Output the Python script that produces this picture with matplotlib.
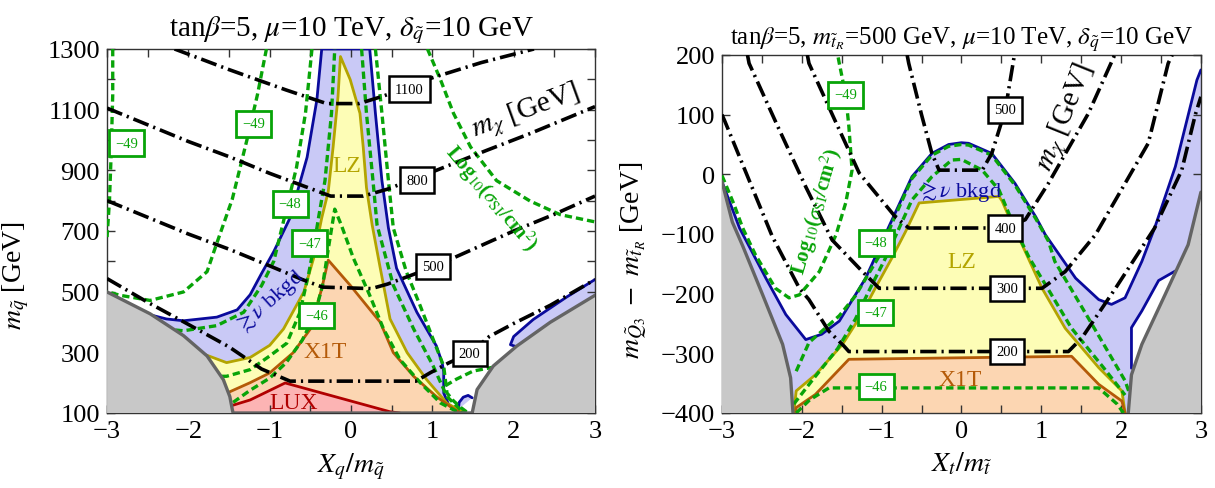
"""
plot.py — squark / stop coannihilation plane with direct-detection limits
Two panels: (X_q/m_q, m_q) and (X_t/m_t, m_Q3 - m_tR)
"""

import matplotlib
matplotlib.use("Agg")
import matplotlib.pyplot as plt
from matplotlib.ticker import MultipleLocator

plt.rcParams["font.family"] = ["Liberation Serif", "DejaVu Serif"]
plt.rcParams["mathtext.fontset"] = "stix"

# ── colours ──────────────────────────────────────────────────────────────────
NAVY, BLUE_F = "#0a0a9c", "#c9c9f6"
OLIVE, YEL_F = "#b3a400", "#fdfdb6"
BROWN, ORA_F = "#b45a08", "#fcd6b2"
RED, PINK_F = "#b00000", "#fcb4b4"
GREY_L, GREY_F = "#646464", "#c8c8c8"
GREEN = "#08a408"

# ── left panel data (X_q/m_q , m_q [GeV]) ────────────────────────────────────
L_grey_l = [(-3.0, 499), (-2.47, 427), (-2.06, 355), (-1.77, 288), (-1.57, 210),
            (-1.49, 154), (-1.46, 112), (-1.45, 100)]
L_grey_r = [(1.49, 100), (1.55, 177), (1.75, 255), (2.04, 321), (2.45, 399), (3.0, 488)]

L_navy = [(-3.0, 496), (-2.68, 438), (-2.27, 410), (-2.06, 404), (-1.65, 416),
          (-1.40, 440), (-1.24, 490), (-1.1, 560), (-0.95, 632), (-0.75, 743),
          (-0.54, 943), (-0.42, 1132), (-0.36, 1300),
          (0.23, 1300), (0.30, 1088), (0.38, 866), (0.46, 710), (0.56, 577),
          (0.81, 432), (1.05, 321), (1.12, 266), (1.14, 236), (1.14, 166),
          (1.2, 128), (1.3, 108), (1.37, 100)]
L_navy_loop = [(3.0, 540), (2.65, 482), (2.24, 408), (2.0, 352), (1.96, 325), (2.04, 318)]
L_navy_hook = [(1.32, 112), (1.33, 135), (1.38, 152), (1.44, 158), (1.49, 150)]

L_olive = [(-2.14, 343), (-1.86, 299), (-1.53, 266), (-1.24, 283), (-1.0, 323),
           (-0.83, 377), (-0.58, 499), (-0.46, 610), (-0.36, 743), (-0.28, 830),
           (-0.22, 977), (-0.16, 1143), (-0.13, 1275), (-0.01, 1199), (0.11, 1088),
           (0.15, 977), (0.19, 843), (0.26, 720), (0.36, 577), (0.48, 410),
           (0.69, 299), (0.93, 210), (1.18, 132), (1.4, 100)]
L_brown = [(-1.49, 170), (-1.24, 200), (-1.0, 232), (-0.71, 299), (-0.50, 377),
           (-0.36, 510), (-0.28, 604), (-0.01, 521), (0.36, 399), (0.52, 299),
           (0.77, 221), (1.05, 154), (1.22, 121), (1.35, 100)]
L_lux = [(-1.46, 125), (-1.24, 143), (-0.81, 199), (0.48, 104), (0.6, 100)]

# log10(sigma_SI/cm^2) contours
L_g49a = [(-2.93, 1300), (-2.93, 1150), (-2.95, 950), (-2.97, 800), (-3.0, 680)]
L_g49b = [(-1.04, 1300), (-1.15, 1150), (-1.28, 1000), (-1.46, 805), (-1.65, 660),
          (-1.77, 566), (-2.06, 499), (-2.47, 471), (-2.84, 488), (-3.0, 500)]
L_g49c = [(0.94, 1300), (1.10, 1199), (1.26, 1088), (1.47, 977), (1.79, 866),
          (2.20, 799), (2.57, 754), (3.0, 730)]
L_g48 = [(-2.3, 377), (-2.06, 371), (-1.65, 388), (-1.32, 432), (-1.1, 520),
         (-0.95, 600), (-0.85, 710), (-0.67, 910), (-0.56, 1088), (-0.48, 1300)]
L_g48r = [(0.30, 1300), (0.38, 1088), (0.46, 866), (0.52, 710), (0.68, 566),
          (0.85, 454), (1.01, 343), (1.14, 254), (1.18, 166), (1.26, 140),
          (1.35, 118), (1.42, 104)]
L_g47 = [(-1.73, 221), (-1.53, 221), (-1.24, 243), (-1.0, 288), (-0.79, 330),
         (-0.63, 430), (-0.52, 560), (-0.45, 660), (-0.40, 743), (-0.32, 866),
         (-0.24, 1088), (-0.20, 1300)]
L_g47r = [(0.13, 1300), (0.19, 1088), (0.27, 866), (0.32, 720), (0.52, 521),
          (0.77, 377), (1.01, 255), (1.18, 154), (1.35, 110), (1.42, 100)]
L_g46 = [(-1.45, 135), (-1.24, 175), (-1.0, 215), (-0.8, 265), (-0.6, 340),
         (-0.45, 421), (-0.35, 520), (-0.28, 640), (-0.2, 772), (-0.12, 720),
         (0.03, 610), (0.23, 488), (0.40, 377), (0.60, 277), (0.85, 200),
         (1.10, 133), (1.3, 105), (1.38, 100)]
L_g_small = [(1.16, 190), (1.3, 212), (1.5, 238), (1.71, 249), (1.78, 252)]

# m_chi contours
L_m1100 = [(-2.17, 1300), (-1.5, 1232), (-0.8, 1165), (-0.3, 1120), (0.1, 1120),
           (0.4, 1145), (1.0, 1205), (1.6, 1255), (2.25, 1300)]
L_m800 = [(-3.0, 1105), (-2.5, 1050), (-2.0, 995), (-1.5, 945), (-1.0, 890),
          (-0.6, 850), (-0.25, 815), (0.15, 815), (0.45, 838), (1.05, 900),
          (1.67, 966), (2.2, 1021), (3.0, 1110)]
L_m500 = [(-3.0, 800), (-2.5, 745), (-2.0, 690), (-1.5, 640), (-1.0, 585),
          (-0.6, 540), (-0.35, 515), (0.25, 510), (0.45, 525), (1.0, 580),
          (1.5, 640), (2.0, 700), (2.5, 755), (3.0, 815)]
L_m200 = [(-3.0, 543), (-2.5, 465), (-2.0, 392), (-1.5, 318), (-1.1, 245),
          (-0.75, 205), (0.8, 205), (0.97, 232), (1.2, 265), (1.46, 297),
          (1.7, 352), (2.0, 395), (2.45, 455), (3.0, 540)]

L_mlabels = [("1100", 0.72, 1168), ("800", 0.81, 868), ("500", 1.01, 582), ("200", 1.46, 297)]
L_glabels = [("−49", -2.76, 990), ("−49", -1.20, 1053), ("−48", -0.75, 789),
             ("−47", -0.51, 660), ("−46", -0.42, 421)]

# ── right panel data (X_t/m_t , m_Q3 - m_tR [GeV]) ───────────────────────────
R_grey_l = [(-3.0, -12), (-2.87, -80), (-2.74, -120), (-2.49, -202), (-2.24, -285),
            (-2.14, -341), (-2.11, -400)]
R_grey_r = [(2.09, -400), (2.13, -336), (2.26, -285), (2.55, -202), (2.84, -118), (3.0, -30)]

R_navy = [(-3.0, -12), (-2.78, -90), (-2.45, -174), (-2.20, -235), (-1.95, -277),
          (-1.75, -268), (-1.53, -246), (-1.20, -174), (-1.03, -124), (-0.91, -88),
          (-0.62, -4), (-0.37, 35), (-0.16, 50), (0.0, 53), (0.09, 52), (0.38, 35),
          (0.67, -15), (0.93, -71), (1.05, -101), (1.43, -174), (1.72, -210),
          (1.88, -218), (2.05, -207), (2.26, -146), (2.42, -90), (2.68, 13),
          (2.95, 158), (3.0, 175)]
R_bubble = [(2.13, -325), (2.13, -257), (2.26, -229), (2.47, -178), (2.68, -162)]

R_olive = [(-2.10, -400), (-2.07, -363), (-1.83, -336), (-1.49, -285), (-1.28, -241),
           (-1.08, -191), (-0.87, -140), (-0.70, -96), (-0.53, -48), (0.47, -37),
           (0.51, -45), (0.63, -82), (0.76, -118), (1.01, -191), (1.30, -258),
           (1.72, -324), (2.01, -363), (2.05, -400)]
R_brown = [(-2.08, -400), (-2.07, -391), (-1.83, -369), (-1.41, -310), (1.38, -305),
           (1.72, -352), (2.01, -380), (2.05, -400)]

R_g49 = [(-3.0, -2), (-2.85, -50), (-2.74, -90), (-2.58, -135), (-2.33, -191),
         (-2.16, -207), (-2.03, -202), (-1.78, -163), (-1.57, -101), (-1.45, -48),
         (-1.37, 7), (-1.41, 80), (-1.45, 133), (-1.53, 186), (-1.55, 200)]
R_g48 = [(-2.07, -330), (-1.91, -282), (-1.53, -237), (-1.33, -204), (-1.03, -137),
         (-0.87, -82), (-0.62, -7), (-0.37, 32), (-0.16, 47), (0.0, 50), (0.09, 49),
         (0.38, 32), (0.67, -18), (0.93, -74), (1.09, -112), (1.17, -146),
         (1.59, -241), (2.05, -346), (2.1, -365)]
R_g47 = [(-2.10, -385), (-1.85, -342), (-1.55, -292), (-1.33, -243), (-1.15, -193),
         (-0.95, -140), (-0.8, -96), (-0.62, -43), (-0.37, -4), (-0.12, 24),
         (0.0, 25), (0.26, 7), (0.47, -26), (0.68, -93), (0.85, -140), (1.08, -191),
         (1.38, -258), (1.78, -324), (2.05, -370)]
R_g46 = [(-2.07, -400), (-1.9, -378), (-1.66, -358), (1.72, -358), (1.95, -385), (2.03, -400)]

R_m500 = [(-0.68, 200), (-0.66, 186), (-0.5, 100), (-0.37, 35), (-0.28, 7), (0.26, 7),
          (0.38, 35), (0.55, 108), (0.66, 197), (0.67, 200)]
R_m400 = [(-1.93, 200), (-1.91, 186), (-1.6, 95), (-1.28, 2), (-0.83, -71), (-0.66, -90),
          (0.55, -90), (0.80, -76), (1.09, -15), (1.59, 102), (1.91, 197), (1.92, 200)]
R_m300 = [(-2.68, 200), (-2.66, 186), (-2.3, 80), (-1.95, -21), (-1.62, -110),
          (-1.24, -163), (-1.03, -191), (1.01, -191), (1.30, -163), (1.68, -101),
          (2.34, 52), (2.59, 186), (2.64, 200)]
R_m200 = [(-3.0, 100), (-2.97, 91), (-2.37, -104), (-2.03, -191), (-1.91, -210),
          (-1.66, -263), (-1.47, -288), (-1.41, -297), (1.34, -297), (1.51, -274),
          (1.93, -191), (2.42, -90), (2.76, 7), (2.93, 100), (3.0, 130)]

R_mlabels = [("500", 0.55, 108), ("400", 0.55, -90), ("300", 0.57, -191), ("200", 0.57, -297)]
R_glabels = [("−49", -1.45, 133), ("−48", -1.07, -115), ("−47", -1.08, -232), ("−46", -1.07, -355)]

# ── helpers ──────────────────────────────────────────────────────────────────

def xy(pts):
    return [p[0] for p in pts], [p[1] for p in pts]

def fill(ax, pts, fc, z=1):
    x, y = xy(pts)
    ax.fill(x, y, fc=fc, ec="none", zorder=z)

def line(ax, pts, color, lw=2.0, z=3, **kw):
    x, y = xy(pts)
    ax.plot(x, y, color=color, lw=lw, zorder=z, solid_capstyle="round", **kw)

def green(ax, pts):
    x, y = xy(pts)
    ax.plot(x, y, color=GREEN, lw=2.4, dashes=(2.2, 1.2), zorder=4)

def dashdot(ax, pts):
    x, y = xy(pts)
    ax.plot(x, y, color="black", lw=2.6, dashes=(4.5, 1.4, 0.6, 1.4), zorder=6)

def box(ax, txt, x, y, color="black", lw=1.8):
    ax.text(x, y, txt, color=color, fontsize=10.5, ha="center", va="center", zorder=8,
            bbox=dict(boxstyle="square,pad=0.42", fc="white", ec=color, lw=lw))

def fmt(v, p):
    return f"{v:.0f}".replace("-", "−")

def style(ax, xlim, ylim, ymajor, yminor, yoffset=0):
    ax.set_xlim(*xlim)
    ax.set_ylim(*ylim)
    ax.xaxis.set_major_locator(MultipleLocator(1))
    ax.xaxis.set_minor_locator(MultipleLocator(0.5))
    ax.yaxis.set_major_locator(MultipleLocator(ymajor, offset=yoffset))
    ax.yaxis.set_minor_locator(MultipleLocator(yminor))
    ax.tick_params(which="both", direction="in", top=True, right=True,
                   labelsize=19, width=1.0, color="#333333", pad=5, length=6)
    for s in ax.spines.values():
        s.set_color("#333333")
        s.set_linewidth(1.0)
    ax.xaxis.set_major_formatter(plt.FuncFormatter(fmt))
    ax.yaxis.set_major_formatter(plt.FuncFormatter(fmt))

fig = plt.figure(figsize=(12.15, 4.89), dpi=100)

# ── left panel ───────────────────────────────────────────────────────────────
ax = fig.add_axes([0.0881, 0.1534, 0.4016, 0.7444])
style(ax, (-3, 3), (100, 1300), 200, 100, yoffset=100)

fill(ax, L_navy + [(1.45, 100), (-3, 100)], BLUE_F)
fill(ax, L_navy_loop + [(2.45, 399), (3.0, 488)], BLUE_F)
fill(ax, L_navy_hook, BLUE_F)
fill(ax, L_olive + [(-2.3, 100)], YEL_F, 1.1)
fill(ax, L_brown + [(-1.6, 100)], ORA_F, 1.2)
fill(ax, L_lux + [(-1.46, 100)], PINK_F, 1.3)

line(ax, L_navy, NAVY)
line(ax, L_navy_loop, NAVY)
line(ax, L_navy_hook, NAVY)
line(ax, L_olive, OLIVE)
line(ax, L_brown, BROWN)
line(ax, L_lux, RED)

fill(ax, L_grey_l + [(-3, 100)], GREY_F, 5)
fill(ax, L_grey_r + [(3, 100)], GREY_F, 5)
line(ax, L_grey_l + [(1.49, 100)], GREY_L, lw=2.4, z=5.5)
line(ax, L_grey_r, GREY_L, lw=2.4, z=5.5)

for g in [L_g49a, L_g49b, L_g49c, L_g48, L_g48r, L_g47, L_g47r, L_g46, L_g_small]:
    green(ax, g)
for m in [L_m1100, L_m800, L_m500, L_m200]:
    dashdot(ax, m)
for t, x, y in L_mlabels:
    box(ax, t, x, y)
for t, x, y in L_glabels:
    box(ax, t, x, y, color=GREEN, lw=2.0)

ax.text(-0.05, 915, "LZ", color=OLIVE, fontsize=17, ha="center", va="center", zorder=7)
ax.text(-0.32, 304, "X1T", color=BROWN, fontsize=17, ha="center", va="center", zorder=7)
ax.text(-0.71, 135, "LUX", color=RED, fontsize=17, ha="center", va="center", zorder=7)
ax.text(-1.0, 470, r"$\gtrsim\nu$ bkgd", color=NAVY, fontsize=16, rotation=42,
        ha="center", va="center", zorder=7)
ax.text(2.15, 1095, r"$m_\chi$ [GeV]", fontsize=21, rotation=20,
        ha="center", va="center", zorder=7)
ax.text(1.72, 810, r"Log$_{10}$($\sigma_{\rm SI}$/cm$^2$)", color=GREEN, fontsize=15,
        rotation=-50, ha="center", va="center", zorder=7, fontweight="bold")

ax.set_title(r"tan$\beta$=5, $\mu$=10 TeV, $\delta_{\tilde{q}}$=10 GeV", fontsize=21, pad=10)
ax.set_xlabel(r"$X_q/m_{\tilde{q}}$", fontsize=20, labelpad=6)
ax.set_ylabel(r"$m_{\tilde{q}}$ [GeV]", fontsize=20)
ax.yaxis.set_label_coords(-0.155, 0.38)

# ── right panel ──────────────────────────────────────────────────────────────
ax = fig.add_axes([0.5942, 0.1534, 0.3942, 0.7321])
style(ax, (-3, 3), (-400, 200), 100, 100)

fill(ax, R_navy + [(3, -400), (-3, -400)], BLUE_F)
fill(ax, R_olive, YEL_F, 1.1)
fill(ax, R_brown, ORA_F, 1.2)
fill(ax, R_bubble + [(2.55, -202), (2.26, -285), (2.13, -336)], "white", 1.5)

line(ax, R_navy, NAVY)
line(ax, R_bubble, NAVY)
line(ax, R_olive, OLIVE)
line(ax, R_brown, BROWN)

fill(ax, R_grey_l + [(-3, -400)], GREY_F, 5)
fill(ax, R_grey_r + [(3, -400)], GREY_F, 5)
line(ax, R_grey_l, GREY_L, lw=2.4, z=5.5)
line(ax, R_grey_r, GREY_L, lw=2.4, z=5.5)

for g in [R_g49, R_g48, R_g47, R_g46]:
    green(ax, g)
for m in [R_m500, R_m400, R_m300, R_m200]:
    dashdot(ax, m)
for t, x, y in R_mlabels:
    box(ax, t, x, y)
for t, x, y in R_glabels:
    box(ax, t, x, y, color=GREEN, lw=2.0)

ax.text(0.01, -146, "LZ", color=OLIVE, fontsize=17, ha="center", va="center", zorder=7)
ax.text(-0.01, -344, "X1T", color=BROWN, fontsize=17, ha="center", va="center", zorder=7)
ax.text(-0.02, -28, r"$\gtrsim\nu$ bkgd", color=NAVY, fontsize=16,
        ha="center", va="center", zorder=7)
ax.text(1.3, 97, r"$m_\chi$ [GeV]", fontsize=21, rotation=68,
        ha="center", va="center", zorder=7)
ax.text(-1.82, -60, r"Log$_{10}$($\sigma_{\rm SI}$/cm$^2$)", color=GREEN, fontsize=15,
        rotation=74, ha="center", va="center", zorder=7, fontweight="bold")

ax.set_title(r"tan$\beta$=5, $m_{\tilde{t}_R}$=500 GeV, $\mu$=10 TeV, $\delta_{\tilde{q}}$=10 GeV",
             fontsize=18, pad=8)
ax.set_xlabel(r"$X_t/m_{\tilde{t}}$", fontsize=20, labelpad=6)
ax.set_ylabel(r"$m_{\tilde{Q}_3}\ -\ m_{\tilde{t}_R}$ [GeV]", fontsize=20)
ax.yaxis.set_label_coords(-0.15, 0.43)

fig.savefig("out.png", dpi=100)
print("Saved: out.png")
